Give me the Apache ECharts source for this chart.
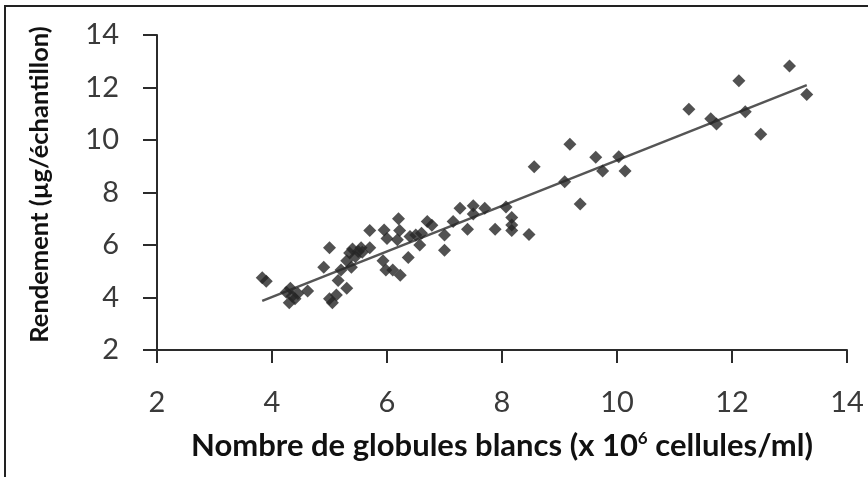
<!DOCTYPE html>
<html>
<head>
<meta charset="utf-8">
<script src="https://cdn.jsdelivr.net/npm/echarts@6/dist/echarts.min.js"></script>
<style>html,body{margin:0;padding:0;background:#fff;}#chart{width:868px;height:477px;}</style>
</head>
<body>
<div id="chart"></div>
<script>
// White blood cell count (x 10^6 cells/ml)
const wbc = [3.83,3.9,4.25,4.32,4.35,4.3,4.4,4.45,4.62,4.9,5.0,5.0,5.05,5.12,5.15,5.2,5.3,5.3,5.35,5.4,5.45,5.5,5.38,5.55,5.7,5.7,5.57,5.95,6.0,6.2,6.22,6.18,5.93,5.98,6.1,6.23,6.37,6.4,6.5,6.6,6.57,6.7,6.78,7.0,7.0,7.15,7.27,7.4,7.5,7.5,7.7,7.88,8.07,8.17,8.17,8.17,8.47,8.56,9.09,9.18,9.36,9.63,9.75,10.03,10.14,11.25,11.63,11.73,12.12,12.23,12.5,13.0,13.3];
// Yield (µg/sample)
const yieldVals = [4.75,4.62,4.2,4.35,4.05,3.8,3.95,4.15,4.25,5.15,5.9,3.95,3.8,4.1,4.65,5.05,4.35,5.4,5.7,5.85,5.55,5.75,5.15,5.9,6.55,5.9,5.72,6.57,6.25,7.0,6.55,6.2,5.4,5.05,5.05,4.85,5.52,6.32,6.38,6.45,6.0,6.9,6.75,6.38,5.8,6.9,7.4,6.6,7.5,7.18,7.4,6.6,7.45,7.05,6.76,6.55,6.4,8.98,8.41,9.84,7.56,9.34,8.82,9.36,8.82,11.17,10.81,10.61,12.26,11.08,10.22,12.82,11.73];
const xTicks = [2,4,6,8,10,12,14];
const yTicks = [2,4,6,8,10,12,14];
const xTitle = 'Nombre de globules blancs (x 10';
const xTitleSup = '6';
const xTitleEnd = ' cellules/ml)';
const yTitle = 'Rendement (µg/échantillon)';

const points = wbc.map((x, i) => [x, yieldVals[i]]);
// least-squares trend line through the data
const n = wbc.length;
const mx = wbc.reduce((a, b) => a + b, 0) / n;
const my = yieldVals.reduce((a, b) => a + b, 0) / n;
let sxy = 0, sxx = 0;
for (let i = 0; i < n; i++) { sxy += (wbc[i] - mx) * (yieldVals[i] - my); sxx += (wbc[i] - mx) ** 2; }
const slope = sxy / sxx, intercept = my - slope * mx;
const xMin = Math.min(...wbc), xMax = Math.max(...wbc);
const trend = [[xMin, intercept + slope * xMin], [xMax, intercept + slope * xMax]];

const chart = echarts.init(document.getElementById('chart'));
const axisCol = '#2b2b2b';
chart.setOption({
  animation: false,
  backgroundColor: '#fff',
  grid: { left: 157, right: 21, top: 35, bottom: 127 },
  xAxis: {
    type: 'value', min: xTicks[0], max: xTicks[xTicks.length - 1], interval: 2,
    axisLine: { onZero: false, lineStyle: { color: axisCol, width: 2 } },
    axisTick: { show: true, length: 13, lineStyle: { color: axisCol, width: 2 } },
    splitLine: { show: false },
    axisLabel: { color: '#3a3a3a', fontSize: 29, fontFamily: 'Lato', fontWeight: 'normal', margin: 38 },
    name: '{a|' + xTitle + '}{s|' + xTitleSup + '}{a|' + xTitleEnd + '}',
    nameLocation: 'middle', nameGap: 80,
    nameTextStyle: {
      rich: {
        a: { fontSize: 31, fontFamily: 'Lato', fontWeight: 'bold', color: '#111' },
        s: { fontSize: 17, fontFamily: 'Lato', fontWeight: 'bold', color: '#111', verticalAlign: 'top', padding: [0, 0, 14, 0] }
      }
    }
  },
  yAxis: {
    type: 'value', min: yTicks[0], max: yTicks[yTicks.length - 1], interval: 2,
    axisLine: { onZero: false, lineStyle: { color: axisCol, width: 2 } },
    axisTick: { show: true, length: 14, lineStyle: { color: axisCol, width: 2 } },
    splitLine: { show: false },
    axisLabel: { color: '#3a3a3a', fontSize: 29, fontFamily: 'Lato', fontWeight: 'normal', margin: 38 },
    name: yTitle, nameLocation: 'middle', nameGap: 104, nameRotate: 90,
    nameTextStyle: { fontSize: 25.5, fontFamily: 'Lato', fontWeight: 'bold', color: '#111', padding: [0, 0, 0, 16] }
  },
  graphic: [
    { type: 'line', shape: { x1: 4, y1: 6, x2: 868, y2: 6 }, style: { stroke: '#222', lineWidth: 2 } },
    { type: 'line', shape: { x1: 5, y1: 6, x2: 5, y2: 477 }, style: { stroke: '#222', lineWidth: 2 } }
  ],
  series: [
    { type: 'line', data: trend, symbol: 'none', lineStyle: { color: '#555', width: 2.5 }, z: 1 },
    { type: 'scatter', data: points, symbol: 'diamond', symbolSize: 13, itemStyle: { color: '#262626' }, z: 2 }
  ]
});
</script>
</body>
</html>
